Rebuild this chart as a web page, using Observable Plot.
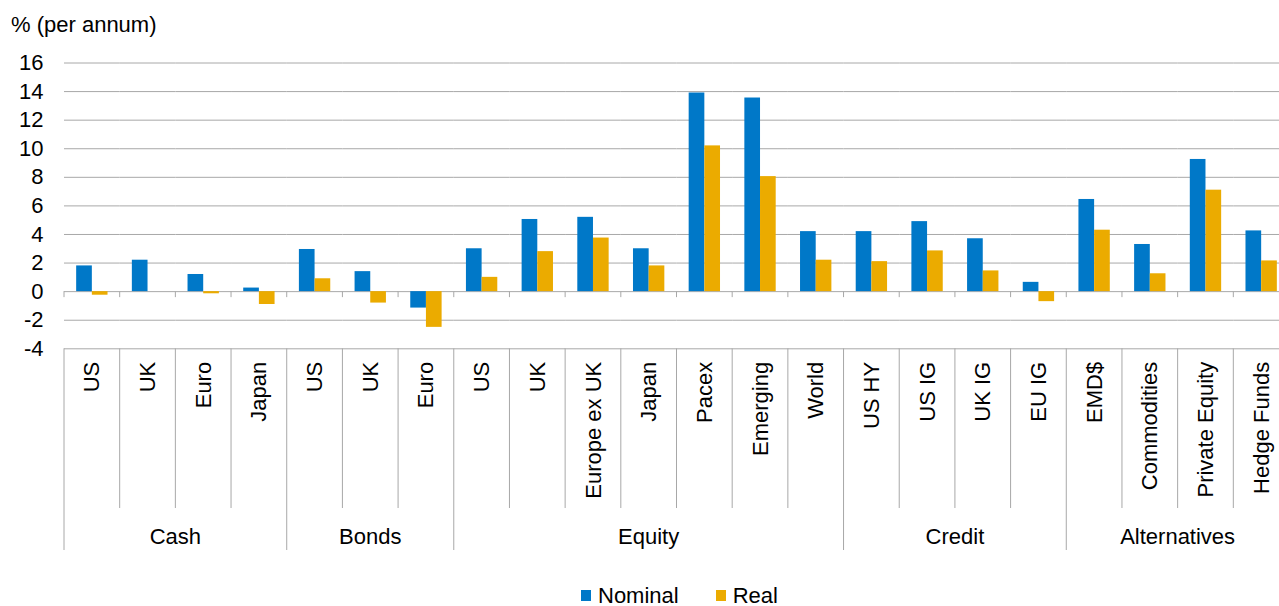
<!DOCTYPE html>
<html><head><meta charset="utf-8">
<script src="https://cdn.jsdelivr.net/npm/d3@7"></script>
<script src="https://cdn.jsdelivr.net/npm/@observablehq/plot@0.6"></script>
<style>
html,body{margin:0;padding:0;overflow:hidden;background:#fff;width:1279px;height:606px;}
body{font-family:"Liberation Sans",Arial,sans-serif;color:#000;}
#title{height:50px;line-height:50px;font-size:22px;padding-left:11px;white-space:nowrap;}
#legend{height:31px;display:flex;align-items:center;padding-left:581px;font-size:22px;white-space:nowrap;}
.sw{width:10px;height:11px;display:inline-block;margin-right:7px;}
.item{display:flex;align-items:center;margin-right:37px;}
</style></head><body>
<div id="title">% (per annum)</div>
<div id="chart"></div>
<div id="legend"></div>
<script>
// ---- data ----
const categories = ["US","UK","Euro","Japan","US","UK","Euro","US","UK","Europe ex UK","Japan","Pacex","Emerging","World","US HY","US IG","UK IG","EU IG","EMD$","Commodities","Private Equity","Hedge Funds"];
const groups = ["Cash","Cash","Cash","Cash","Bonds","Bonds","Bonds","Equity","Equity","Equity","Equity","Equity","Equity","Equity","Credit","Credit","Credit","Credit","Alternatives","Alternatives","Alternatives","Alternatives"];
const nominal = [1.8, 2.2, 1.2, 0.25, 2.95, 1.4, -1.15, 3.0, 5.05, 5.2, 3.0, 13.9, 13.55, 4.2, 4.2, 4.9, 3.7, 0.65, 6.45, 3.3, 9.25, 4.25];
const real = [-0.25, 0, -0.15, -0.9, 0.9, -0.8, -2.5, 1.0, 2.8, 3.75, 1.8, 10.2, 8.05, 2.2, 2.1, 2.85, 1.45, -0.7, 4.3, 1.25, 7.1, 2.15];
const yTicks = [-4, -2, 0, 2, 4, 6, 8, 10, 12, 14, 16];
const seriesNames = ["Nominal", "Real"];
const seriesColors = ["#0078c8", "#ebab00"];

// ---- derived tables ----
const keys = categories.map((c, i) => groups[i] + " | " + c);
const cats = categories.map((c, i) => ({key: keys[i], label: c, group: groups[i]}));
const rows = [];
keys.forEach((k, i) => {
  rows.push({key: k, series: seriesNames[0], value: nominal[i]});
  rows.push({key: k, series: seriesNames[1], value: real[i]});
});

const gridColor = "#a8a8a8";

const chart = Plot.plot({
  width: 1289,
  height: 530,
  marginLeft: 64,
  marginRight: 0,
  marginTop: 12.5,
  marginBottom: 231.7,
  style: {fontFamily: "'Liberation Sans', Arial, sans-serif", fontSize: "22px", color: "#000", background: "#fff", maxWidth: "none", overflow: "visible"},
  fx: {domain: keys, paddingInner: 0, paddingOuter: 0, round: false, axis: null, label: null},
  x: {domain: seriesNames, paddingInner: 0, paddingOuter: 0.776, round: false, axis: null, label: null},
  y: {domain: [-4, 16], ticks: yTicks, tickSize: 0, tickPadding: 21, label: null, tickFormat: d => String(d)},
  color: {domain: seriesNames, range: seriesColors},
  marks: [
    Plot.ruleY(yTicks, {y: d => d, stroke: gridColor, strokeWidth: 1}),
    Plot.barY(rows, {fx: "key", x: "series", y: "value", fill: "series", inset: 0}),
    Plot.text(cats, {fx: "key", text: "label", frameAnchor: "bottom", rotate: -90, textAnchor: "end", lineAnchor: "middle", dy: 13, fill: "#000", fontSize: 22})
  ]
});
document.getElementById("chart").appendChild(chart);

// ---- hierarchical category axis decorations, positioned from Plot's own scales ----
const fxs = chart.scale("fx");
const ys = chart.scale("y");
const bw = fxs.bandwidth;
const yb = ys.apply(-4);
const y0 = ys.apply(0);
const svg = d3.select(chart);
const g = svg.append("g").attr("stroke", gridColor).attr("stroke-width", 1);
const groupStarts = new Set();
keys.forEach((k, i) => { if (i === 0 || groups[i] !== groups[i - 1]) groupStarts.add(i); });
const bounds = keys.map(k => fxs.apply(k)).concat([fxs.apply(keys[keys.length - 1]) + bw]);
bounds.forEach((x, i) => {
  const isGroup = groupStarts.has(i) || i === keys.length;
  g.append("line").attr("x1", x).attr("x2", x).attr("y1", yb).attr("y2", yb + (isGroup ? 201.7 : 159.7));
  g.append("line").attr("x1", x).attr("x2", x).attr("y1", y0).attr("y2", y0 + 6);
});
const groupNames = [...new Set(groups)];
const tg = svg.append("g").attr("font-size", 22).attr("fill", "#000").attr("text-anchor", "middle");
groupNames.forEach(name => {
  const idx = groups.map((gname, i) => gname === name ? i : -1).filter(i => i >= 0);
  const x1 = fxs.apply(keys[idx[0]]);
  const x2 = fxs.apply(keys[idx[idx.length - 1]]) + bw;
  tg.append("text").attr("x", (x1 + x2) / 2).attr("y", yb + 195.7).text(name);
});

// ---- legend ----
const legend = document.getElementById("legend");
seriesNames.forEach((s, i) => {
  const it = document.createElement("span");
  it.className = "item";
  const sw = document.createElement("span");
  sw.className = "sw";
  sw.style.background = seriesColors[i];
  it.appendChild(sw);
  it.appendChild(document.createTextNode(s));
  legend.appendChild(it);
});
</script>
</body></html>
